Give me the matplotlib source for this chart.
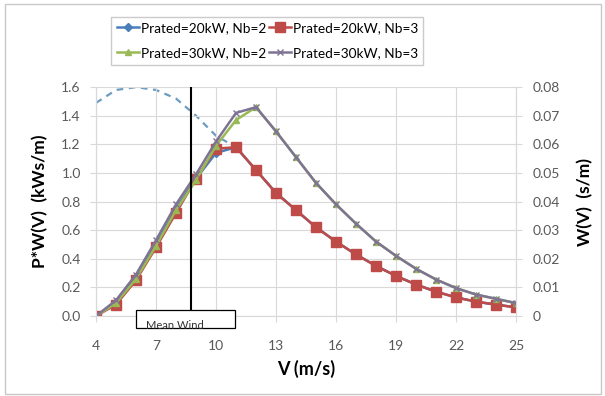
import numpy as np
import matplotlib
matplotlib.use("Agg")
import matplotlib.pyplot as plt
from matplotlib.patches import Rectangle

plt.rcParams['font.family'] = ['Lato', 'DejaVu Sans']

# wind speed bins (m/s)
V = [4, 5, 6, 7, 8, 9, 10, 11, 12, 13, 14, 15, 16, 17, 18, 19, 20, 21, 22, 23, 24, 25]

# P*W(V) in kWs/m
pw_20_nb2 = [0.0, 0.10, 0.27, 0.50, 0.75, 0.96, 1.14, 1.18, 1.02, 0.86, 0.74, 0.62, 0.52, 0.43, 0.35, 0.28, 0.22, 0.17, 0.13, 0.10, 0.08, 0.06]
pw_20_nb3 = [0.0, 0.08, 0.25, 0.48, 0.72, 0.96, 1.17, 1.18, 1.02, 0.86, 0.74, 0.62, 0.52, 0.43, 0.35, 0.28, 0.22, 0.17, 0.13, 0.10, 0.08, 0.06]
pw_30_nb2 = [0.0, 0.09, 0.26, 0.49, 0.74, 0.95, 1.19, 1.37, 1.46, 1.29, 1.11, 0.93, 0.78, 0.645, 0.52, 0.42, 0.33, 0.255, 0.195, 0.15, 0.12, 0.09]
pw_30_nb3 = [0.0, 0.11, 0.29, 0.53, 0.78, 0.99, 1.22, 1.42, 1.46, 1.29, 1.11, 0.93, 0.78, 0.645, 0.52, 0.42, 0.33, 0.255, 0.195, 0.15, 0.12, 0.09]

# Weibull density W(V) in s/m
weibull = [0.0745, 0.079, 0.080, 0.079, 0.076, 0.070, 0.063, 0.059, 0.051, 0.043, 0.037, 0.031, 0.026, 0.0215, 0.0175, 0.014, 0.011, 0.0085, 0.0065, 0.005, 0.004, 0.003]

MEAN_WIND = 8.75

labels = ["Prated=20kW, Nb=2", "Prated=20kW, Nb=3", "Prated=30kW, Nb=2", "Prated=30kW, Nb=3"]
colors = ["#4A7EBB", "#BE4B48", "#98B954", "#7F7394"]
markers = ["D", "s", "^", "x"]
msizes = [4, 6.5, 5, 5]

TICK_COLOR = "#595959"

fig = plt.figure(figsize=(6.05, 3.96), dpi=100)
fig.patches.append(Rectangle((0.008, 0.006), 0.985, 0.984, transform=fig.transFigure,
                             fill=False, edgecolor="#c8c8c8", lw=1.0))

ax = fig.add_axes([0.1587, 0.202, 0.6943, 0.578])
ax2 = ax.twinx()

# dashed weibull curve on right axis, drawn first so the power curves cover it
ax2.plot(V, weibull, ls=(0, (3, 2.5)), color="#6C9CC0", lw=1.6, zorder=1)
ax2.set_ylim(0, 0.08)
ax2.set_yticks(np.arange(0, 0.0801, 0.01))
ax2.set_yticklabels(["0"] + [f"{t:.2f}" for t in np.arange(0.01, 0.0801, 0.01)])
ax2.set_ylabel("W(V)  (s/m)", fontsize=12.5, fontweight="bold", labelpad=12)

ax.set_zorder(ax2.get_zorder() + 1)
ax.patch.set_visible(False)

series = [pw_20_nb2, pw_20_nb3, pw_30_nb2, pw_30_nb3]
handles = []
for s, lab, c, m, ms in zip(series, labels, colors, markers, msizes):
    h, = ax.plot(V, s, color=c, marker=m, markersize=ms, lw=1.8, label=lab,
                 markeredgecolor=c, markeredgewidth=1.0)
    handles.append(h)

ax.axvline(MEAN_WIND, ymin=0, ymax=1, color="black", lw=1.5, zorder=5)

ax.set_xlim(4, 25)
ax.set_ylim(0, 1.6)
ax.set_xticks(range(4, 26, 3))
ax.set_yticks(np.arange(0, 1.61, 0.2))
ax.set_yticklabels([f"{t:.1f}" for t in np.arange(0, 1.61, 0.2)])
ax.grid(True, color="#d9d9d9", lw=0.8)
ax.set_axisbelow(True)
ax.set_xlabel("V (m/s)", fontsize=13, fontweight="bold", labelpad=6)
ax.set_ylabel("P*W(V)  (kWs/m)", fontsize=12.5, fontweight="bold", labelpad=9)

for a in (ax, ax2):
    a.tick_params(length=4, width=0.8, color="#d9d9d9", labelsize=10,
                  labelcolor=TICK_COLOR)
    for sp in a.spines.values():
        sp.set_color("#d9d9d9")
        sp.set_linewidth(0.8)
    a.spines["top"].set_visible(False)
ax.tick_params(axis="x", pad=13)
ax.tick_params(axis="y", pad=7)
ax2.tick_params(axis="y", pad=8)

# "Mean Wind" text box, partly cut off at the bottom
box = Rectangle((6.0, -0.085), 4.95, 0.13, transform=ax.transData, facecolor="white",
                edgecolor="black", lw=0.9, clip_on=False, zorder=6)
ax.add_patch(box)
txt = ax.text(6.5, -0.03, "Mean Wind", fontsize=8, va="top", ha="left",
              color="#333333", zorder=7, clip_on=False)
txt.set_clip_path(box)

order = [0, 2, 1, 3]
fig.legend(handles=[handles[i] for i in order], labels=[labels[i] for i in order],
           loc="upper center", ncol=2,
           bbox_to_anchor=(0.442, 0.975), fontsize=9.8, frameon=True, fancybox=False,
           edgecolor="#bfbfbf", handlelength=1.6, handletextpad=0.15,
           columnspacing=0.2, borderpad=0.4, labelspacing=0.95)

fig.savefig("out.png", dpi=100)
